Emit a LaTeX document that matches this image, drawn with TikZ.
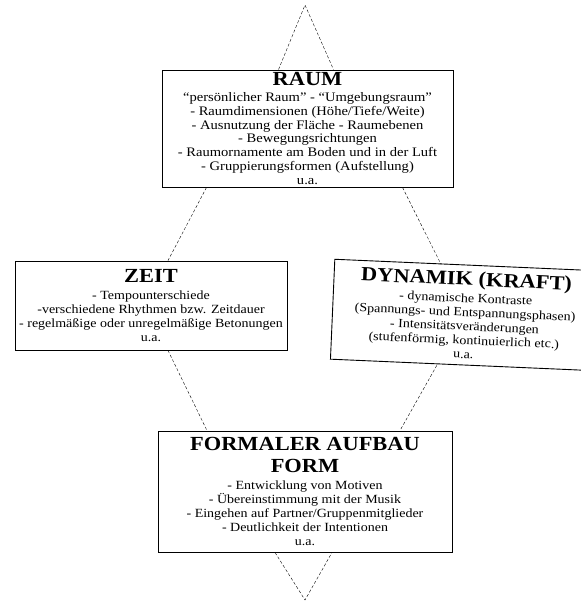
\documentclass[tikz,border=0pt]{standalone}
\usepackage{fontspec}
\setmainfont{Liberation Serif}
\newfontfamily\breit[FakeStretch=1.12,Ligatures=TeX]{Liberation Serif}
\usetikzlibrary{calc}

\newcommand{\titel}[1]{{\fontsize{20}{22}\selectfont\bfseries #1}}

\begin{document}
\begin{tikzpicture}[x=1pt,y=-1pt,font=\breit\fontsize{12.5}{14}\selectfont]
          \tikzstyle{feld}=[draw=black,line width=0.9pt,inner sep=0pt,align=center]
          \tikzstyle{linie}=[densely dashed,line width=0.4pt]
          \useasboundingbox (0,0) rectangle (581,606);

          \node[feld,minimum width=291pt,minimum height=117pt,
                font=\breit\fontsize{13}{13.8}\selectfont] (raum) at (307.5,128.5)
               {\titel{RAUM}\\[2pt]
                ``persönlicher Raum'' - ``Umgebungsraum''\\
                - Raumdimensionen (Höhe/Tiefe/Weite)\\
                - Ausnutzung der Fläche - Raumebenen\\
                - Bewegungsrichtungen\\
                - Raumornamente am Boden und in der Luft\\
                - Gruppierungsformen (Aufstellung)\\
                u.a.};
          \node[feld,minimum width=272pt,minimum height=89pt] (zeit) at (151,305.5)
               {\titel{ZEIT}\\[3pt]
                - Tempounterschiede\\
                -verschiedene Rhythmen bzw. Zeitdauer\\
                - regelmäßige oder unregelmäßige Betonungen\\
                u.a.};
          \node[feld,minimum width=265pt,minimum height=100pt,rotate=-2.5] (dynamik) at (465,315)
               {\titel{DYNAMIK (KRAFT)}\\[3pt]
                - dynamische Kontraste\\
                (Spannungs- und Entspannungsphasen)\\
                - Intensitätsveränderungen\\
                (stufenförmig, kontinuierlich etc.)\\
                u.a.};
          \node[feld,minimum width=294pt,minimum height=121pt] (form) at (305,491.5)
               {\titel{FORMALER AUFBAU}\\[8pt]
                \titel{FORM}\\[3pt]
                - Entwicklung von Motiven\\
                - Übereinstimmung mit der Musik\\
                - Eingehen auf Partner/Gruppenmitglieder\\
                - Deutlichkeit der Intentionen\\
                u.a.};

          \coordinate (oben)  at (305,5);
          \coordinate (unten) at (305,600);

          \draw[linie] ([xshift=-29pt]raum.north) -- (oben) -- ([xshift=26pt]raum.north);
          \draw[linie] ([xshift=-101pt]raum.south) -- ([xshift=17pt]zeit.north);
          \draw[linie] ([xshift=95pt]raum.south) -- ([xshift=-26pt]dynamik.north);
          \draw[linie] ([xshift=17pt]zeit.south) -- ([xshift=-98pt]form.north);
          \draw[linie] ([xshift=-26pt]dynamik.south) -- ([xshift=95pt]form.north);
          \draw[linie] ([xshift=-30pt]form.south) -- (unten) -- ([xshift=27pt]form.south);
        \end{tikzpicture}
\end{document}
